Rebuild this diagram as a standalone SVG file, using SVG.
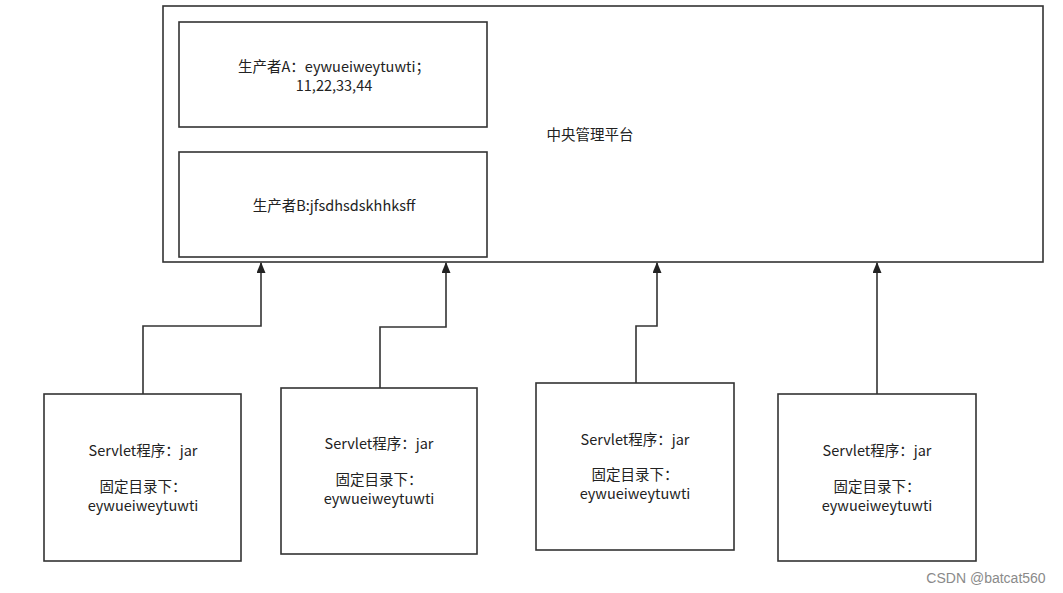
<svg xmlns="http://www.w3.org/2000/svg" width="1063" height="593" viewBox="0 0 1063 593">
<style>
.box{fill:#fff;stroke:#333;stroke-width:1.6}
.t{font-family:"Noto Sans CJK SC","Open Sans",sans-serif;font-size:14.5px;fill:#222;text-anchor:middle}
.c{fill:none;stroke:#333;stroke-width:1.6}
.wm{font-family:"Liberation Sans",Arial,sans-serif;font-size:14px;fill:#8a8a8a;text-anchor:middle}
</style>
<defs>
<marker id="arr" viewBox="0 0 12 10" refX="11" refY="5" markerWidth="12" markerHeight="9" markerUnits="userSpaceOnUse" orient="auto">
<path d="M0,0 L12,5 L0,10 z" fill="#222"/>
</marker>
</defs>
<rect width="1063" height="593" fill="#fff"/>
<g id="platform">
<rect class="box" x="163" y="6" width="880" height="256"/>
<text class="t" x="590" y="140">中央管理平台</text>
</g>
<g id="producerA">
<rect class="box" x="179" y="22" width="308" height="105"/>
<text class="t" x="334" y="72">生产者A：eywueiweytuwti；</text>
<text class="t" x="334" y="91">11,22,33,44</text>
</g>
<g id="producerB">
<rect class="box" x="179" y="152" width="308" height="105"/>
<text class="t" x="334" y="211">生产者B:jfsdhsdskhhksff</text>
</g>
<g id="servlet1">
<rect class="box" x="44" y="394" width="197" height="167"/>
<text class="t" x="143" y="456">Servlet程序：jar</text>
<text class="t" x="143" y="492">固定目录下：</text>
<text class="t" x="143" y="511">eywueiweytuwti</text>
</g>
<g id="servlet2">
<rect class="box" x="281" y="388" width="196" height="166"/>
<text class="t" x="379" y="449">Servlet程序：jar</text>
<text class="t" x="379" y="485">固定目录下：</text>
<text class="t" x="379" y="504">eywueiweytuwti</text>
</g>
<g id="servlet3">
<rect class="box" x="536" y="383" width="198" height="167"/>
<text class="t" x="635" y="445">Servlet程序：jar</text>
<text class="t" x="635" y="480">固定目录下：</text>
<text class="t" x="635" y="499">eywueiweytuwti</text>
</g>
<g id="servlet4">
<rect class="box" x="778" y="394" width="198" height="167"/>
<text class="t" x="877" y="456">Servlet程序：jar</text>
<text class="t" x="877" y="492">固定目录下：</text>
<text class="t" x="877" y="511">eywueiweytuwti</text>
</g>
<g id="connectors">
<path class="c" d="M143,394 V326 H261 V263" marker-end="url(#arr)"/>
<path class="c" d="M380,388 V327 H446 V263" marker-end="url(#arr)"/>
<path class="c" d="M636,383 V326 H657 V263" marker-end="url(#arr)"/>
<path class="c" d="M877,394 V263" marker-end="url(#arr)"/>
</g>
<text class="wm" x="986" y="583">CSDN @batcat560</text>
</svg>
